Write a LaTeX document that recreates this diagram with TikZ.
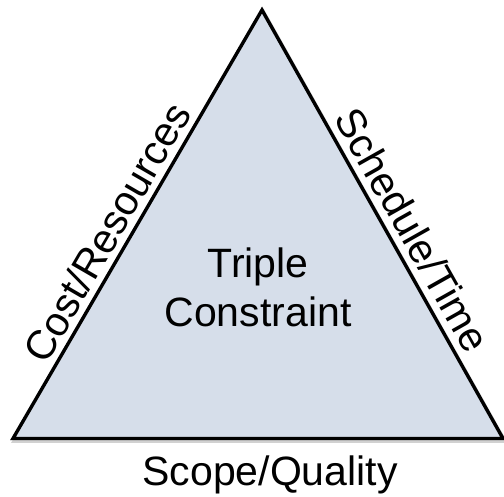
\documentclass[tikz,border=0pt]{standalone}
\usepackage{fontspec}
\setmainfont{Liberation Sans}
\usetikzlibrary{calc}
\definecolor{trifill}{RGB}{214,222,234}
\tikzset{
  edge/.style={draw=black, line width=3.4pt, line join=miter},
  shade/.style={draw=black, line width=4pt, opacity=0.18, line join=miter},
  label/.style={inner sep=0pt, font=\fontsize{41}{49}\selectfont},
}
\begin{document}
\begin{tikzpicture}[x=1pt,y=1pt]
  \useasboundingbox (0,0) rectangle (504,497);
  % corners of the triangle
  \coordinate (A) at (262,487);
  \coordinate (BL) at (13,58.5);
  \coordinate (BR) at (503,58.5);
  % soft shadow, then the filled triangle
  \draw[shade] ([shift={(1.5,-2.5)}]A) -- ([shift={(1.5,-2.5)}]BR) -- ([shift={(1.5,-2.5)}]BL) -- cycle;
  \filldraw[edge, fill=trifill] (A) -- (BR) -- (BL) -- cycle;
  % centre label (base anchor sits on the last line)
  \node[label, align=center, anchor=base] (core) at (258,170) {Triple\\Constraint};
  % side labels, set along each side just outside it
  \coordinate (pl) at ($(BL)!0.455!(A)$);
  \coordinate (pr) at ($(A)!0.54!(BR)$);
  \node[label, anchor=base, rotate=59.87] (cost) at ($(pl)!8pt!90:(A)$) {Cost/Resources};
  \node[label, anchor=base, rotate=-60.6] (time) at ($(pr)!9pt!90:(BR)$) {Schedule/Time};
  \node[label, anchor=base] (scope) at (270,11) {Scope/Quality};
\end{tikzpicture}
\end{document}
